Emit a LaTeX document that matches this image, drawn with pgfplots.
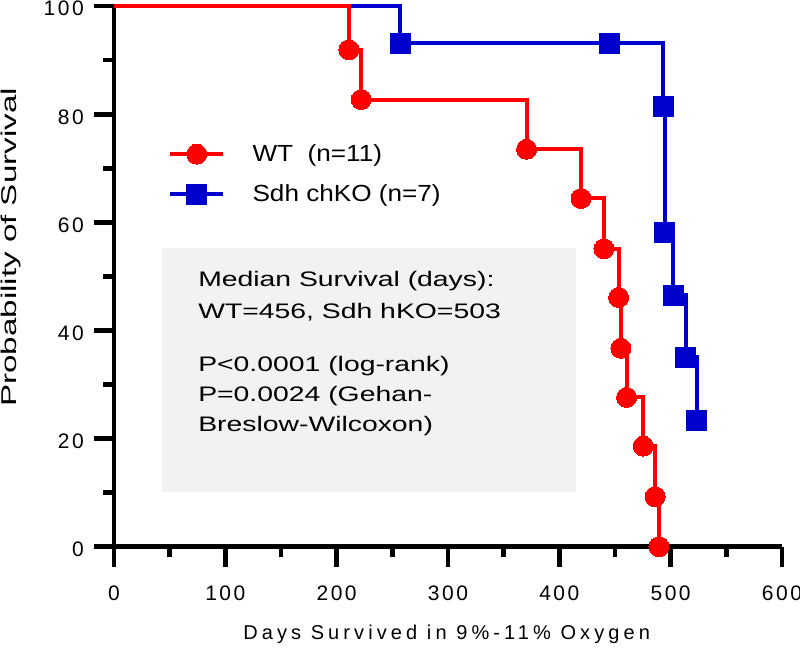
\documentclass[border=0pt]{standalone}
\usepackage{fontspec}
\setmainfont{Liberation Sans}
\newfontfamily\tickfont[LetterSpace=12]{Liberation Sans}
\newfontfamily\xlabfont[LetterSpace=20.5]{Liberation Sans}
\usepackage{pgfplots}
\pgfplotsset{compat=1.18}
\definecolor{kored}{RGB}{255,0,0}
\definecolor{koblue}{RGB}{0,0,204}
\definecolor{boxgray}{RGB}{242,242,242}
\newcommand\boxtext[1]{\scalebox{1.35}[1]{\fontsize{15.75bp}{18bp}\selectfont #1}}
\newcommand\legtext[1]{\scalebox{1.12}[1]{#1}}

\pgfplotstableread{
x y
0 100
211 91.9
222 82.7
370.6 73.5
419.5 64.4
440.1 55.1
453.3 46.1
455.3 36.7
460.4 27.6
475.4 18.6
486 9.25
489.5 0
}\wtdata

\pgfplotstableread{
x y
0 100
257 93.1
445.5 93.1
493.3 81.4
494.9 58.1
502.4 46.5
513.4 35.0
523.6 23.4
}\kodata

\begin{document}
\begin{tikzpicture}
\useasboundingbox (-85.5bp,-79bp) rectangle (514.5bp,410bp);
\begin{axis}[
  at={(0,0)}, anchor=south west,
  scale only axis, width=501bp, height=405.5bp,
  xmin=0, xmax=600, ymin=0, ymax=100,
  axis lines=left,
  axis line style={-, line width=3.6bp, black},
  xtick={0,100,...,600}, ytick={0,20,...,100},
  minor x tick num=1, minor y tick num=1,
  tick align=outside,
  major tick length=15bp, minor tick length=8bp,
  every tick/.style={black, line width=3.6bp},
  major tick style={black, line width=3.6bp},
  minor tick style={black, line width=3.6bp},
  /pgf/number format/assume math mode=true,
  tick label style={font=\tickfont\fontsize{15.75bp}{18bp}\selectfont, inner sep=0pt},
  yticklabel style={anchor=east, xshift=-7.5bp, yshift=-2bp},
  xticklabel style={anchor=north, yshift=-14.5bp},
  clip=false,
  xlabel={Days Survived in 9\%-11\% Oxygen},
  xlabel style={at={(axis description cs:0.5,0)}, anchor=base, yshift=-69.5bp, xshift=-1bp, inner sep=0pt,
    font=\xlabfont\fontsize{15bp}{18bp}\selectfont},
  ylabel={\scalebox{1.555}[1]{Probability of Survival}},
  ylabel style={at={([xshift=-73.3bp]axis description cs:0,0.5534)}, anchor=base, inner sep=0pt,
    font=\fontsize{16bp}{19bp}\selectfont},
  legend style={draw=none, fill=none, at={(axis description cs:0.0808,0.745)}, anchor=north west,
    inner sep=0pt, row sep=15bp, column sep=20.5bp,
    nodes={inner sep=0pt, font=\fontsize{17.5bp}{20bp}\selectfont}},
  legend cell align=left,
  reverse legend,
  legend image code/.code={
    \draw[#1, mark=none] (0bp,0bp) -- (39.75bp,0bp);
    \draw[#1, mark indices={1}] plot coordinates {(19.9bp,0bp)};
  },
]
\fill[boxgray] (axis cs:43.1,55.24) rectangle (axis cs:415,10.1);

\addplot[koblue, line width=3bp, const plot, mark=square*, mark size=7.5bp,
  mark options={fill=koblue, draw=koblue, line width=0pt}, mark indices={2,3,4,5,6,7,8}]
  table[x=x, y=y] {\kodata};
\addlegendentry{\legtext{Sdh chKO (n=7)}}

\addplot[kored, line width=3bp, const plot, mark=*, mark size=7.5bp,
  mark options={fill=kored, draw=kored, line width=0pt}, mark indices={2,3,4,5,6,7,8,9,10,11,12}]
  table[x=x, y=y] {\wtdata};
\addlegendentry{\legtext{WT\ \ (n=11)}}

\node[anchor=base west, inner sep=0pt] at ([xshift=63bp,yshift=194.8bp]axis cs:0,0) {\boxtext{Median Survival (days):}};
\node[anchor=base west, inner sep=0pt] at ([xshift=63bp,yshift=170.8bp]axis cs:0,0) {\boxtext{WT=456, Sdh hKO=503}};
\node[anchor=base west, inner sep=0pt] at ([xshift=63bp,yshift=131.25bp]axis cs:0,0) {\boxtext{P<0.0001 (log-rank)}};
\node[anchor=base west, inner sep=0pt] at ([xshift=63bp,yshift=108.75bp]axis cs:0,0) {\boxtext{P=0.0024 (Gehan-}};
\node[anchor=base west, inner sep=0pt] at ([xshift=63bp,yshift=86.25bp]axis cs:0,0) {\boxtext{Breslow-Wilcoxon)}};
\end{axis}
\end{tikzpicture}
\end{document}
